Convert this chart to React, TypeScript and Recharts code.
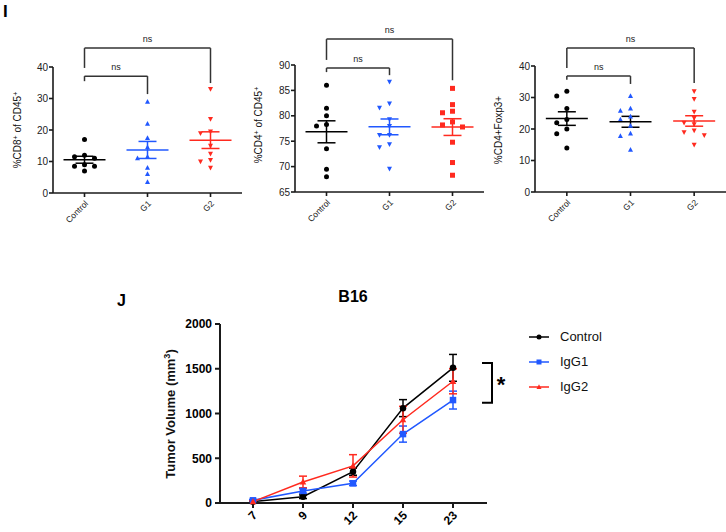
import React from "react";
import {
  ScatterChart,
  Scatter,
  XAxis,
  YAxis,
  ErrorBar,
  ReferenceLine,
  ReferenceDot,
  LineChart,
  Line,
  Legend,
} from "recharts";

const FONT = "'Liberation Sans', Arial, sans-serif";
const BLACK = "#000000";
const BLUE = "#2158ff";
const RED = "#ff2a1f";
const AXIS = "#1a1a1a";

const groups = ["Control", "G1", "G2"];

// panel I, %CD8+ of CD45+
const cd8Control = [17, 12, 11.5, 11, 9, 8.5, 8.5, 7];
const cd8G1 = [29, 22, 17.5, 14.5, 11.5, 11, 8, 6, 3.5];
const cd8G2 = [33, 23.5, 19.5, 19, 15, 12.5, 10.5, 10, 8];

// panel I, %CD4+ of CD45+
const cd4Control = [86, 81.5, 80, 78.3, 78, 73.5, 69.5, 68];
const cd4G1 = [86.7, 82.4, 81.6, 79.3, 78, 76.2, 76.2, 74.4, 73.8, 69.6];
const cd4G2 = [85.4, 82.2, 80.9, 80.6, 78.8, 78.2, 77.8, 74.8, 70.8, 68.3];

// panel I, %CD4+Foxp3+
const tregControl = [32, 30.5, 26.5, 23, 22, 20, 18.5, 14];
const tregG1 = [30.5, 26.5, 25.8, 24, 23, 21, 18.6, 17.8, 13.4];
const tregG2 = [32, 29.5, 25.5, 23.5, 22, 21.5, 19.5, 19, 18, 15];

// panel J, B16 tumour volume
const days = ["7", "9", "12", "15", "23"];
const controlMean = [15, 70, 350, 1060, 1510];
const controlSem = [10, 20, 40, 95, 150];
const igg1Mean = [30, 135, 220, 770, 1150];
const igg1Sem = [10, 25, 25, 90, 100];
const igg2Mean = [15, 235, 415, 930, 1360];
const igg2Sem = [8, 65, 125, 150, 140];

const mean = (a: number[]) => a.reduce((s, v) => s + v, 0) / a.length;
const sem = (a: number[]) => {
  const m = mean(a);
  const sd = Math.sqrt(a.reduce((s, v) => s + (v - m) ** 2, 0) / (a.length - 1));
  return sd / Math.sqrt(a.length);
};

// spread overlapping points sideways, like a scatter dot plot does
const swarm = (vals: number[], gi: number, span: number, plotH: number) => {
  const placed: { v: number; s: number }[] = [];
  const order = [0, -1, 1, -2, 2, -3, 3];
  return vals.map((v) => {
    const close = placed.filter((p) => (Math.abs(p.v - v) * plotH) / span < 6);
    const s = order.find((o) => !close.some((p) => p.s === o)) ?? 0;
    placed.push({ v, s });
    return { x: gi + 0.5 + (s * 10) / 63, y: v };
  });
};

function Mark({ cx, cy, kind, color, size }: any) {
  if (cx == null || cy == null) return null;
  const r = size / 2;
  if (kind === "circle") return <circle cx={cx} cy={cy} r={r} fill={color} />;
  if (kind === "square")
    return <rect x={cx - r} y={cy - r} width={size} height={size} fill={color} />;
  if (kind === "up")
    return (
      <polygon
        points={`${cx},${cy - r * 1.1} ${cx + r},${cy + r * 0.8} ${cx - r},${cy + r * 0.8}`}
        fill={color}
      />
    );
  return (
    <polygon
      points={`${cx},${cy + r * 1.1} ${cx + r},${cy - r * 0.8} ${cx - r},${cy - r * 0.8}`}
      fill={color}
    />
  );
}

const SlantTick = ({ x, y, payload, fontSize, bold, names }: any) => {
  const label = names ? names[Math.floor(payload.value)] : payload.value;
  return (
    <g transform={`translate(${x + 2},${y + 3})`}>
      <text
        transform="rotate(-45)"
        textAnchor="end"
        dy="0.35em"
        fontSize={fontSize}
        fontWeight={bold ? 700 : 400}
        fontFamily={FONT}
        fill={bold ? BLACK : "#222"}
      >
        {label}
      </text>
    </g>
  );
};

const bracket = (key: string, b: any) => [
  <ReferenceLine key={key + "h"} segment={[{ x: b.x1, y: b.y }, { x: b.x2, y: b.y }]} stroke="#333" strokeWidth={1.5} ifOverflow="visible" />,
  <ReferenceLine key={key + "l"} segment={[{ x: b.x1, y: b.y }, { x: b.x1, y: b.l }]} stroke="#333" strokeWidth={1.5} ifOverflow="visible" />,
  <ReferenceLine key={key + "r"} segment={[{ x: b.x2, y: b.y }, { x: b.x2, y: b.r }]} stroke="#333" strokeWidth={1.5} ifOverflow="visible" />,
  <ReferenceDot
    key={key + "t"}
    x={(b.x1 + b.x2) / 2}
    y={b.y}
    r={1}
    fill="none"
    stroke="none"
    ifOverflow="visible"
    label={{ value: "ns", position: "top", offset: 5, fontSize: 9, fill: "#222", fontFamily: FONT }}
  />,
];

function DotPlot({ left, top, bottom, marginLeft, domain, ticks, sets, kinds, colors, barColors, outer, inner }: any) {
  const H = 240;
  const span = domain[1] - domain[0];
  const plotH = bottom - top;
  return (
    <div style={{ position: "absolute", left, top: 0 }}>
      <ScatterChart
        width={242}
        height={H}
        margin={{ top, right: 0, bottom: H - bottom - 40, left: marginLeft }}
      >
        <XAxis
          type="number"
          dataKey="x"
          domain={[0, 3]}
          ticks={[0.5, 1.5, 2.5]}
          interval={0}
          height={40}
          tickSize={4}
          stroke={AXIS}
          strokeWidth={1.6}
          tick={<SlantTick fontSize={8.5} names={groups} />}
        />
        <YAxis
          type="number"
          dataKey="y"
          domain={domain}
          ticks={ticks}
          width={40}
          tickSize={4}
          tickMargin={1}
          stroke={AXIS}
          strokeWidth={1.6}
          tick={{ fontSize: 10, fill: "#222", fontFamily: FONT }}
        />
        {sets.map((vals: number[], gi: number) => (
          <Scatter
            key={"pts" + gi}
            data={swarm(vals, gi, span, plotH)}
            isAnimationActive={false}
            shape={(p: any) => <Mark cx={p.cx} cy={p.cy} kind={kinds[gi]} color={colors[gi]} size={5} />}
          />
        ))}
        {sets.map((vals: number[], gi: number) => (
          <Scatter
            key={"mean" + gi}
            data={[{ x: gi + 0.5, y: mean(vals), err: sem(vals) }]}
            isAnimationActive={false}
            shape={(p: any) => (
              <line x1={p.cx - 21} x2={p.cx + 21} y1={p.cy} y2={p.cy} stroke={barColors[gi]} strokeWidth={1.5} />
            )}
          >
            <ErrorBar dataKey="err" direction="y" width={9} stroke={barColors[gi]} strokeWidth={1.5} />
          </Scatter>
        ))}
        {bracket("o", outer)}
        {bracket("i", inner)}
      </ScatterChart>
    </div>
  );
}

const YLabel = ({ x, y, size, bold, children }: any) => (
  <div
    style={{
      position: "absolute",
      left: x,
      top: y,
      transform: "translate(-50%,-50%) rotate(-90deg)",
      whiteSpace: "nowrap",
      fontSize: size,
      fontWeight: bold ? 700 : 400,
      lineHeight: 1,
      color: "#111",
    }}
  >
    {children}
  </div>
);

const supStyle: React.CSSProperties = { fontSize: "0.7em", verticalAlign: "0.5em", lineHeight: 0 };

const tumorRows = days.map((d, i) => ({
  day: d,
  control: controlMean[i],
  controlErr: controlSem[i],
  igg1: igg1Mean[i],
  igg1Err: igg1Sem[i],
  igg2: igg2Mean[i],
  igg2Err: igg2Sem[i],
}));

const series = [
  { key: "control", name: "Control", color: BLACK, kind: "circle", size: 6.5 },
  { key: "igg1", name: "IgG1", color: BLUE, kind: "square", size: 6.5 },
  { key: "igg2", name: "IgG2", color: RED, kind: "up", size: 6.5 },
];

const renderLegend = () => (
  <div style={{ fontFamily: FONT, fontSize: 13, color: "#111" }}>
    {series.map((s) => (
      <div key={s.key} style={{ display: "flex", alignItems: "center", height: 25 }}>
        <svg width={24} height={12} style={{ marginRight: 9 }}>
          <line x1={2} x2={22} y1={6} y2={6} stroke={s.color} strokeWidth={1.5} />
          <Mark cx={12} cy={6} kind={s.kind} color={s.color} size={5} />
        </svg>
        <span>{s.name}</span>
      </div>
    ))}
  </div>
);

// y pixel of a tumour volume, for the significance bracket drawn next to the plot
const J_TOP = 324;
const J_BOTTOM = 503;
const jy = (v: number) => J_BOTTOM - (v / 2000) * (J_BOTTOM - J_TOP);

export default function App() {
  return (
    <div
      style={{
        position: "fixed",
        left: 0,
        top: 0,
        width: 726,
        height: 532,
        background: "#fff",
        fontFamily: FONT,
        overflow: "hidden",
      }}
    >
      <div style={{ position: "absolute", left: 3, top: 2, fontSize: 17, fontWeight: 700 }}>I</div>

      <DotPlot
        left={0}
        top={67}
        bottom={193}
        marginLeft={13}
        domain={[0, 40]}
        ticks={[0, 10, 20, 30, 40]}
        sets={[cd8Control, cd8G1, cd8G2]}
        kinds={["circle", "up", "down"]}
        colors={[BLACK, BLUE, RED]}
        barColors={[BLACK, BLUE, RED]}
        outer={{ x1: 0.5, x2: 2.5, y: 46, l: 39.7, r: 34.9 }}
        inner={{ x1: 0.5, x2: 1.5, y: 37.1, l: 35.5, r: 31.4 }}
      />
      <DotPlot
        left={242}
        top={65}
        bottom={192}
        marginLeft={13}
        domain={[65, 90]}
        ticks={[65, 70, 75, 80, 85, 90]}
        sets={[cd4Control, cd4G1, cd4G2]}
        kinds={["circle", "down", "square"]}
        colors={[BLACK, BLUE, RED]}
        barColors={[BLACK, BLUE, RED]}
        outer={{ x1: 0.5, x2: 2.5, y: 95.1, l: 91, r: 87 }}
        inner={{ x1: 0.5, x2: 1.5, y: 89.4, l: 88.6, r: 88 }}
      />
      <DotPlot
        left={484}
        top={66}
        bottom={192}
        marginLeft={11}
        domain={[0, 40]}
        ticks={[0, 10, 20, 30, 40]}
        sets={[tregControl, tregG1, tregG2]}
        kinds={["circle", "up", "down"]}
        colors={[BLACK, BLUE, RED]}
        barColors={[BLACK, BLACK, RED]}
        outer={{ x1: 0.5, x2: 2.5, y: 45.7, l: 39.4, r: 34.6 }}
        inner={{ x1: 0.5, x2: 1.5, y: 36.8, l: 35.6, r: 34.3 }}
      />

      <YLabel x={18} y={130} size={10}>
        %CD8<span style={supStyle}>+</span> of CD45<span style={supStyle}>+</span>
      </YLabel>
      <YLabel x={259} y={125} size={10}>
        %CD4<span style={supStyle}>+</span> of CD45<span style={supStyle}>+</span>
      </YLabel>
      <YLabel x={499} y={130} size={10}>
        %CD4+Foxp3+
      </YLabel>

      <div style={{ position: "absolute", left: 117, top: 292, fontSize: 16, fontWeight: 700 }}>J</div>
      <div
        style={{
          position: "absolute",
          left: 353,
          top: 297,
          transform: "translate(-50%,-50%)",
          fontSize: 16,
          fontWeight: 700,
        }}
      >
        B16
      </div>
      <YLabel x={170} y={414} size={13} bold>
        Tumor Volume (mm<span style={supStyle}>3</span>)
      </YLabel>

      <div style={{ position: "absolute", left: 110, top: 290 }}>
        <LineChart
          width={616}
          height={242}
          data={tumorRows}
          margin={{ top: J_TOP - 290, right: 239, bottom: 0, left: 50 }}
        >
          <XAxis
            dataKey="day"
            type="category"
            scale="point"
            padding={{ left: 33, right: 34 }}
            height={29}
            interval={0}
            tickSize={5}
            stroke={AXIS}
            strokeWidth={2}
            tick={<SlantTick fontSize={12} bold />}
          />
          <YAxis
            type="number"
            domain={[0, 2000]}
            ticks={[0, 500, 1000, 1500, 2000]}
            width={60}
            tickSize={5}
            tickMargin={3}
            stroke={AXIS}
            strokeWidth={2}
            tick={{ fontSize: 12, fontWeight: 700, fill: BLACK, fontFamily: FONT }}
          />
          {series.map((s) => (
            <Line
              key={s.key}
              dataKey={s.key}
              name={s.name}
              stroke={s.color}
              strokeWidth={1.5}
              isAnimationActive={false}
              dot={(p: any) => (
                <Mark key={s.key + p.index} cx={p.cx} cy={p.cy} kind={s.kind} color={s.color} size={s.size} />
              )}
              activeDot={false}
            >
              <ErrorBar dataKey={s.key + "Err"} direction="y" width={4} stroke={s.color} strokeWidth={1.5} />
            </Line>
          ))}
          <Legend
            layout="vertical"
            align="center"
            verticalAlign="middle"
            content={renderLegend}
            wrapperStyle={{ left: 417, top: 34, width: 120 }}
          />
        </LineChart>
      </div>

      <svg style={{ position: "absolute", left: 478, top: 350 }} width={40} height={70}>
        <g transform="translate(-478,-350)">
          <polyline
            points={`482,${jy(1565)} 492,${jy(1565)} 492,${jy(1120)} 482,${jy(1120)}`}
            fill="none"
            stroke={BLACK}
            strokeWidth={2}
          />
          <text x={501} y={jy(1340) + 9} textAnchor="middle" fontSize={22} fontWeight={700} fontFamily={FONT}>
            *
          </text>
        </g>
      </svg>
    </div>
  );
}
